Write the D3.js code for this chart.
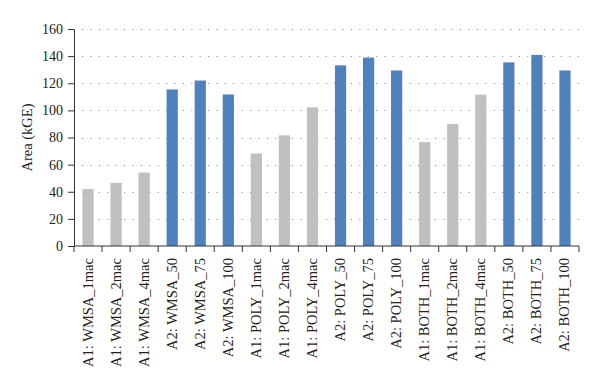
<!DOCTYPE html>
<html>
<head>
<meta charset="utf-8">
<script src="https://cdn.jsdelivr.net/npm/d3@7"></script>
<style>
  body { margin: 0; background: #fff; }
  svg text { font-family: "Liberation Serif", "Times New Roman", Times, serif !important; fill: #222; }
</style>
</head>
<body>
<div id="chart"></div>
<script>
const categories = [
  "A1: WMSA_1mac", "A1: WMSA_2mac", "A1: WMSA_4mac",
  "A2: WMSA_50", "A2: WMSA_75", "A2: WMSA_100",
  "A1: POLY_1mac", "A1: POLY_2mac", "A1: POLY_4mac",
  "A2: POLY_50", "A2: POLY_75", "A2: POLY_100",
  "A1: BOTH_1mac", "A1: BOTH_2mac", "A1: BOTH_4mac",
  "A2: BOTH_50", "A2: BOTH_75", "A2: BOTH_100"
];
const values = [42, 46.5, 54.2, 115.4, 122, 111.7, 68.2, 81.6, 102.3, 133.2, 138.9, 129.4, 76.6, 90, 111.6, 135.4, 140.9, 129.4];
const yTicks = [0, 20, 40, 60, 80, 100, 120, 140, 160];

const width = 600, height = 385;
const margin = { top: 29, right: 21, bottom: 139, left: 74 };

const svg = d3.select("#chart").append("svg")
  .attr("width", width)
  .attr("height", height);

const x = d3.scaleBand()
  .domain(categories)
  .range([margin.left, width - margin.right])
  .paddingInner(0)
  .paddingOuter(0);

const y = d3.scaleLinear()
  .domain([0, 160])
  .range([height - margin.bottom, margin.top]);

// dotted gridlines
svg.append("g")
  .selectAll("line")
  .data(yTicks.filter(d => d > 0))
  .join("line")
  .attr("x1", margin.left + 8)
  .attr("x2", width - margin.right)
  .attr("y1", d => Math.round(y(d)) + 0.5)
  .attr("y2", d => Math.round(y(d)) + 0.5)
  .attr("stroke", "#999")
  .attr("stroke-width", 1.2)
  .attr("stroke-dasharray", "1.2,7.2");

// bars
const barW = x.bandwidth() * 0.4;
svg.append("g")
  .selectAll("rect")
  .data(values)
  .join("rect")
  .attr("x", (d, i) => x(categories[i]) + (x.bandwidth() - barW) / 2)
  .attr("y", d => y(d))
  .attr("width", barW)
  .attr("height", d => y(0) - y(d))
  .attr("fill", (d, i) => categories[i].startsWith("A2") ? "#4f81bd" : "#c0c0c0");

// y axis
const yAxis = svg.append("g")
  .attr("transform", `translate(${margin.left},0)`)
  .attr("font-family", null)
  .call(d3.axisLeft(y).tickValues(yTicks).tickSize(6).tickPadding(5));
yAxis.attr("font-family", null).attr("font-size", null);
yAxis.selectAll("text").style("font-size", "14px");
yAxis.selectAll("line, path").attr("stroke", "#333");

// x axis with ticks at category boundaries
const xAxis = svg.append("g")
  .attr("transform", `translate(0,${y(0)})`);
xAxis.append("line")
  .attr("x1", margin.left)
  .attr("x2", width - margin.right)
  .attr("stroke", "#333");
xAxis.selectAll(".tick")
  .data(d3.range(categories.length + 1))
  .join("line")
  .attr("class", "tick")
  .attr("x1", i => margin.left + i * x.step())
  .attr("x2", i => margin.left + i * x.step())
  .attr("y1", 0)
  .attr("y2", 6)
  .attr("stroke", "#333");
xAxis.selectAll(".label")
  .data(categories)
  .join("text")
  .attr("class", "label")
  .attr("transform", d => `translate(${x(d) + x.bandwidth() / 2 + 4.5},12) rotate(-90)`)
  .attr("text-anchor", "end")
  .style("font-size", "14.5px")
  .text(d => d);

// y label
svg.append("text")
  .attr("transform", `translate(32,${(y(0) + y(160)) / 2}) rotate(-90)`)
  .attr("text-anchor", "middle")
  .style("font-size", "14.5px")
  .text("Area (kGE)");
</script>
</body>
</html>
